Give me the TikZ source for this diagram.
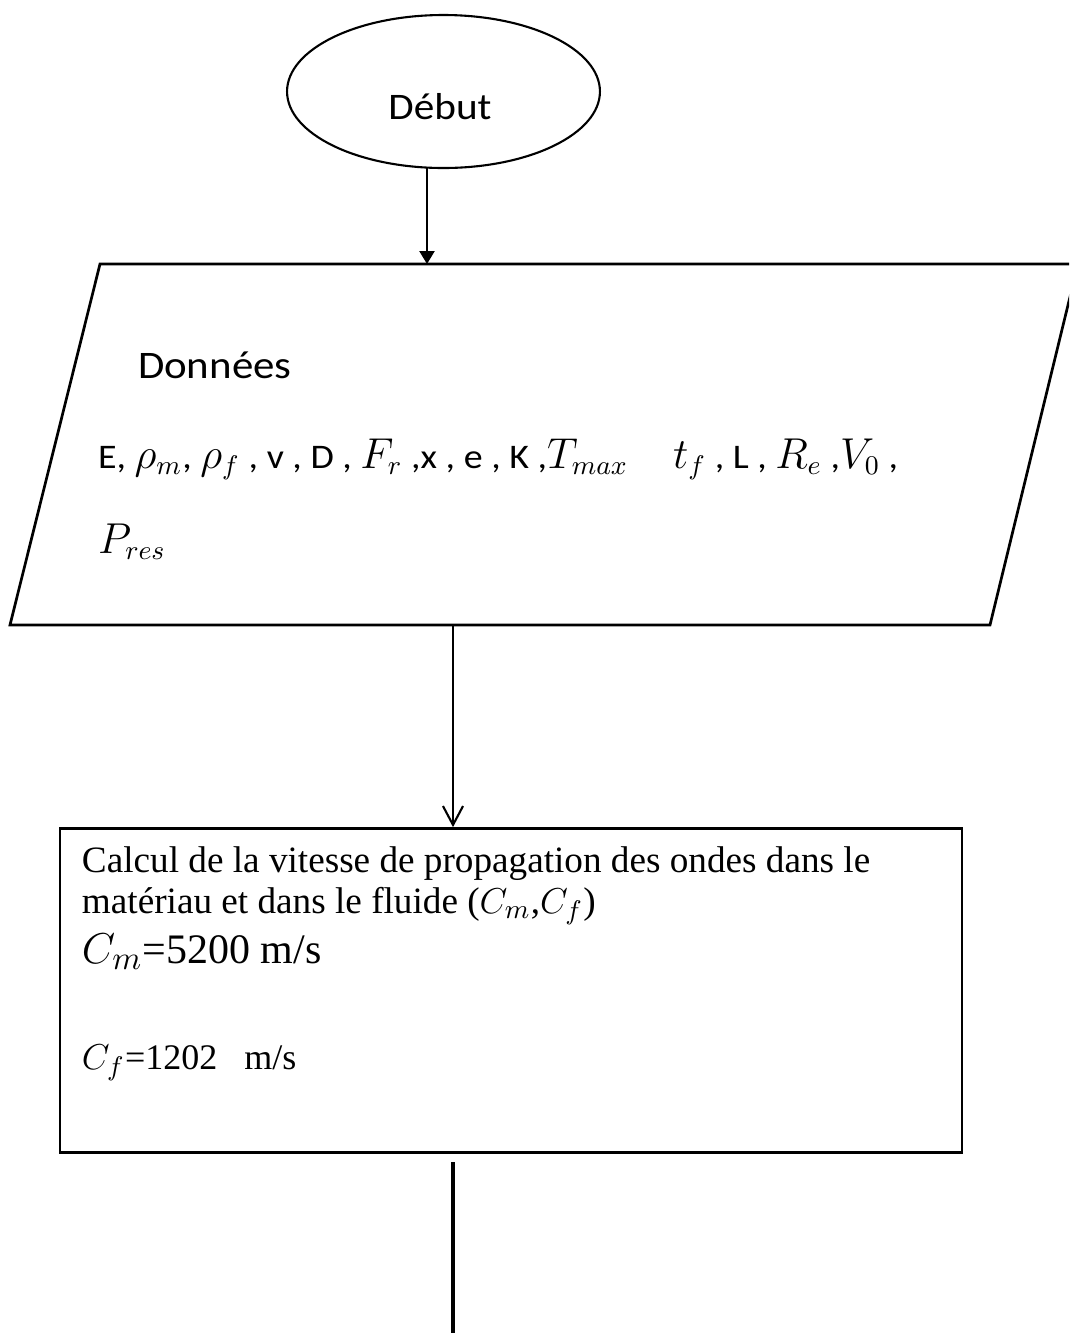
\documentclass[tikz,border=0pt]{standalone}
\usepackage{fontspec}
\setmainfont{Liberation Serif}
\newfontfamily\calib[FakeStretch=1.1]{Carlito}
\usetikzlibrary{shapes.geometric,arrows.meta}
\newcommand{\Mth}[1]{{\fontsize{13.5}{15}\selectfont$#1$}}
\newcommand{\Msm}[1]{{\fontsize{12.5}{14}\selectfont$#1$}}
\begin{document}
\begin{tikzpicture}[x=0.33333pt,y=-0.33333pt,
  shapeline/.style={line width=0.9pt},
  txt/.style={anchor=base west,inner sep=0pt,outer sep=0pt}]
\useasboundingbox (0,0) rectangle (1069,1333);
\clip (0,0) rectangle (1069,1333);
% start ellipse
\node[ellipse,draw,line width=0.7pt,minimum width=104.3pt,minimum height=51pt,inner sep=0pt] (debut) at (443.5,91.5) {};
\node[anchor=base,inner sep=0pt] (debutlbl) at (440,119) {\calib\fontsize{12.5}{14}\selectfont Début};
% data parallelogram
\coordinate (pTL) at (100,264);
\coordinate (pTR) at (1078,264);
\coordinate (pBR) at (990,625);
\coordinate (pBL) at (10,625);
\draw[shapeline] (pTL) -- (pTR) -- (pBR) -- (pBL) -- cycle;
\node[txt] (donnees) at (138,378) {\calib\fontsize{13}{15}\selectfont Données};
\node[txt] (vars) at (98,468) {\calib\fontsize{11.5}{13}\selectfont E, \Mth{\rho_m}, \Mth{\rho_f} , v , D , \Mth{F_r} ,x , e , K ,\Mth{T_{max}}\hspace{1.3em}\Mth{t_f} , L , \Mth{R_e} ,\Mth{V_0} ,};
\node[txt] (pres) at (98,553) {\fontsize{13.5}{15}\selectfont$P_{res}$};
% calc box
\node[draw,line width=0.9pt,minimum width=300.67pt,minimum height=108pt,inner sep=0pt] (calc) at (511,990.5) {};
\node[txt] (l1) at (82,872) {\fontsize{12.4}{14}\selectfont Calcul de la vitesse de propagation des ondes dans le};
\node[txt] (l2) at (82,913) {\fontsize{12.4}{14}\selectfont matériau et dans le fluide (\Msm{C_m},\Msm{C_f})};
\node[txt] (l3) at (82,963) {\fontsize{14}{16}\selectfont {\fontsize{15}{16}\selectfont$C_m$}=5200 m/s};
\node[txt] (l4) at (82,1069) {\fontsize{12}{14}\selectfont \Msm{C_f}=1202\ \ \ m/s};
% connectors
\coordinate (a1) at (427,168);
\draw[line width=0.7pt,-{Triangle[length=4.3pt,width=5pt]}] (a1) -- (a1 |- pTL);
\coordinate (a2) at (453,625);
\draw[line width=0.7pt,-{Straight Barb[length=6.3pt,width=6.7pt]}] (a2) -- (a2 |- calc.north);
\coordinate (a3) at (453,1162);
\coordinate (a4) at (453,1340);
\draw[line width=1.2pt] (a3) -- (a4);
\end{tikzpicture}
\end{document}
